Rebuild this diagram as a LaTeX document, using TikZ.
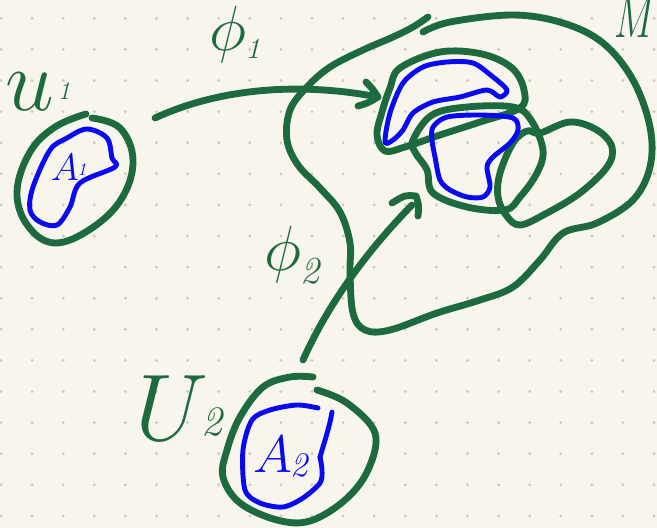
\documentclass[tikz,border=0pt]{standalone}
\begin{document}
\begin{tikzpicture}[x=0.02cm,y=-0.02cm,line cap=round,line join=round]
\definecolor{paper}{HTML}{F8F6EC}
\definecolor{dotc}{HTML}{CBC9C0}
\definecolor{ink}{HTML}{1E6A3F}
\definecolor{pen}{HTML}{0A0AF2}
\tikzset{
  gline/.style={draw=ink,line width=3.9pt},
  bline/.style={draw=pen,line width=2.8pt},
  glabel/.style={text=ink,inner sep=0pt,font=\huge},
  blabel/.style={text=pen,inner sep=0pt,font=\huge}
}
\fill[paper] (0,0) rectangle (657,528);
\useasboundingbox (0,0) rectangle (657,528);
\foreach \i in {0,...,21}{\foreach \j in {0,...,16}{\fill[dotc] (1+31.1*\i,18.3+31.1*\j) circle (1.6);}}
% U1
\draw[gline] plot[smooth,tension=0.65] coordinates {(92,118) (120,128) (133,160) (122,198) (92,228) (55,243) (28,226) (17,192) (30,152) (55,127) (86,114)};
\draw[bline] plot[smooth cycle,tension=0.55] coordinates {(87,129) (107,138) (112,158) (115,167) (80,183) (70,207) (57,225) (40,222) (30,210) (33,187) (50,150) (67,138)};
% M
\draw[gline] plot[smooth,tension=0.6] coordinates {(423,32) (450,22) (513,15) (563,23) (603,43) (633,80) (650,127) (650,167) (633,200) (597,223) (563,233) (540,260) (513,287) (480,300) (437,313) (390,330) (365,330) (353,313) (350,273) (350,243) (340,212) (320,188) (298,165) (287,140) (290,110) (307,87) (330,67) (363,50) (393,37) (413,27) (428,17)};
% inner top blob
\draw[gline] plot[smooth cycle,tension=0.6] coordinates {(400,68) (440,52) (482,54) (512,68) (524,90) (520,108) (480,122) (440,135) (405,147) (385,151) (377,135) (382,112) (390,88)};
% middle circle
\draw[gline] plot[smooth cycle,tension=0.6] coordinates {(413,140) (432,115) (467,107) (513,107) (531,120) (543,150) (537,173) (520,197) (505,210) (467,207) (433,193) (427,170) (415,152)};
% right blob
\draw[gline] plot[smooth cycle,tension=0.6] coordinates {(540,133) (570,122) (597,130) (612,147) (607,167) (580,193) (547,213) (520,225) (506,215) (498,197) (500,173) (513,143) (527,131)};
% blue top crescent
\draw[bline] plot[smooth cycle,tension=0.5] coordinates {(385,142) (390,113) (403,83) (423,67) (447,62) (473,63) (493,77) (507,90) (500,97) (487,90) (460,97) (433,102) (413,113) (403,130) (393,140)};
% blue lower shape
\draw[bline] plot[smooth cycle,tension=0.5] coordinates {(433,127) (447,117) (480,115) (513,118) (518,130) (510,143) (493,157) (487,167) (490,187) (483,197) (467,197) (450,190) (440,180) (435,157) (432,140)};
% U2
\draw[gline] plot[smooth,tension=0.6] coordinates {(317,390) (347,403) (375,433) (368,470) (345,500) (310,521) (277,520) (240,503) (223,477) (227,450) (240,417) (263,387) (290,377) (313,377)};
\draw[bline] plot[smooth,tension=0.5] coordinates {(318,408) (297,405) (270,410) (252,420) (243,450) (245,490) (260,503) (283,507) (303,498) (320,483) (322,470) (320,457)};
\draw[bline] (320,457) .. controls (325,440) and (330,425) .. (332,412);
% arrows
\coordinate (p1s) at (155,118);
\coordinate (p1e) at (378,97);
\draw[gline] (p1s) .. controls (220,88) and (300,82) .. (p1e);
\draw[gline] (366,82) .. controls (372,88) .. (p1e) .. controls (368,103) .. (358,106);
\coordinate (p2s) at (303,360);
\coordinate (p2e) at (412,205);
\draw[gline] (p2s) .. controls (330,300) and (370,248) .. (p2e);
\draw[gline] (392,203) .. controls (405,195) .. (416,196) .. controls (419,205) .. (418,216);
% labels
\node[glabel,anchor=base,scale=2.4] (u1) at (30,110) {$u$};
\node[glabel,anchor=base,scale=0.7] (u1s) at (64,99) {\itshape 1};
\node[glabel,anchor=base,scale=1.75] (phi1) at (228,50) {$\phi$};
\node[glabel,anchor=base,scale=0.8] (phi1s) at (253,58) {\itshape 1};
\node[glabel,anchor=base,scale=1.75] (phi2) at (283,270) {$\phi$};
\node[glabel,anchor=base,scale=1.05] (phi2s) at (310,283) {\itshape 2};
\node[glabel,anchor=base west,scale=1.6,xscale=0.68] (M) at (614,37) {$M$};
\node[glabel,anchor=base,scale=2.6] (U2) at (172,440) {$U$};
\node[glabel,anchor=base,scale=1.15] (U2s) at (212,435) {\itshape 2};
\node[blabel,anchor=base,scale=1.05] (A1) at (65,180) {$A$};
\node[blabel,anchor=base,scale=0.5] (A1s) at (82,175) {\itshape 1};
\node[blabel,anchor=base,scale=1.45] (A2) at (273,472) {$A$};
\node[blabel,anchor=base,scale=0.95] (A2s) at (299,476) {\itshape 2};
\end{tikzpicture}
\end{document}
